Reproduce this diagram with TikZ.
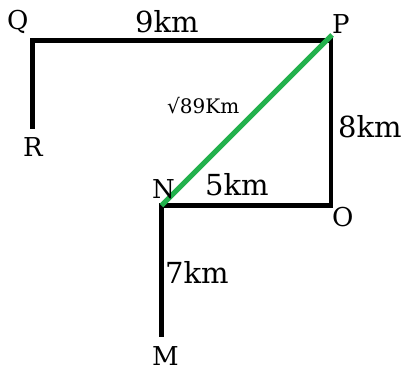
\documentclass[tikz,border=0pt]{standalone}
\usepackage{fontspec}
\setmainfont{DejaVu Serif}
\definecolor{pgreen}{RGB}{34,177,76}
\begin{document}
\begin{tikzpicture}[x=1pt,y=-1pt,
  seg/.style={line width=4.6pt,line cap=rect},
  hyp/.style={line width=5pt,pgreen},
  lbl/.style={anchor=base west,inner sep=0pt,font=\fontsize{26}{30}\selectfont},
  dlbl/.style={anchor=base west,inner sep=0pt,font=\fontsize{29}{33}\selectfont},
  slbl/.style={anchor=base west,inner sep=0pt,font=\fontsize{20}{24}\selectfont}]
\useasboundingbox (0,0) rectangle (406,372);
\coordinate (Qc) at (32.5,40.5);
\coordinate (Pc) at (331,40.5);
\coordinate (Rc) at (32.5,127);
\coordinate (Oc) at (331,205.5);
\coordinate (Nc) at (161.5,205.5);
\coordinate (Mc) at (161.5,335);
\coordinate (Pg) at (332,35);
\draw[seg] (Rc) -- (Qc) -- (Pc) -- (Oc) -- (Nc) -- (Mc);
\draw[hyp] (Nc) -- (Pg);
\node[lbl] (Q) at (7,29) {Q};
\node[lbl] (P) at (332,33) {P};
\node[lbl] (R) at (23,156) {R};
\node[lbl] (N) at (152,198) {N};
\node[lbl] (O) at (332,226) {O};
\node[lbl] (M) at (152,365) {M};
\node[dlbl] (d9) at (135,32) {9km};
\node[dlbl] (d8) at (338,137) {8km};
\node[dlbl] (d5) at (205,195) {5km};
\node[dlbl] (d7) at (165,283) {7km};
\node[slbl] (dh) at (167,113) {√89Km};
\end{tikzpicture}
\end{document}
